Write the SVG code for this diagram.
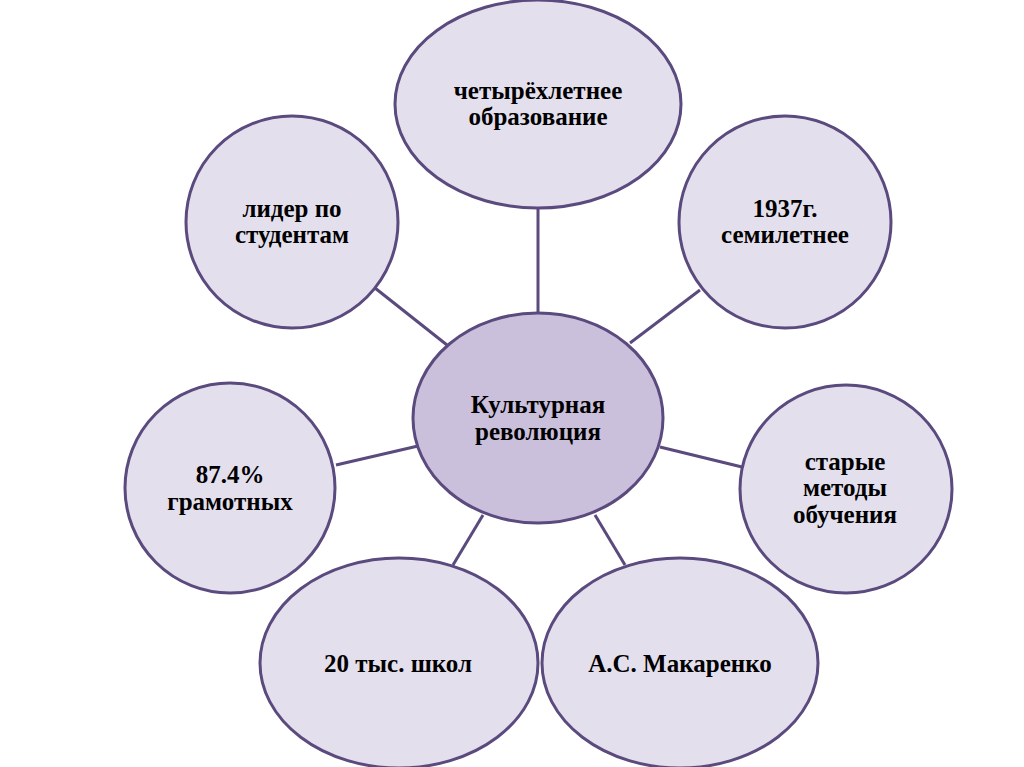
<svg xmlns="http://www.w3.org/2000/svg" width="1024" height="767" viewBox="0 0 1024 767">
<style>
.n{fill:#e4dfed;stroke:#5a4a7e;stroke-width:3}
.c{fill:#cbc0dc;stroke:#5a4a7e;stroke-width:3}
.l{stroke:#5a4a7e;stroke-width:3;fill:none}
.t{font-weight:bold;font-size:25px;fill:#000;text-anchor:middle}
</style>
<rect width="1024" height="767" fill="#fff"/>
<g id="connectors">
<line class="l" x1="538" y1="208" x2="538" y2="313"/>
<line class="l" x1="375" y1="288" x2="447" y2="345"/>
<line class="l" x1="700" y1="290" x2="630" y2="343"/>
<line class="l" x1="336" y1="465" x2="418" y2="446"/>
<line class="l" x1="660" y1="447" x2="742" y2="467"/>
<line class="l" x1="483" y1="515" x2="453" y2="565"/>
<line class="l" x1="595" y1="515" x2="625" y2="565"/>
</g>
<g font-family="Liberation Serif, Times New Roman, DejaVu Serif, serif">
<g id="center">
<ellipse class="c" cx="538" cy="418" rx="125" ry="105"/>
<text class="t" x="538" y="413">Культурная</text>
<text class="t" x="538" y="440">революция</text>
</g>
<g id="top">
<ellipse class="n" cx="538" cy="104" rx="143" ry="104"/>
<text class="t" x="538" y="99">четырёхлетнее</text>
<text class="t" x="538" y="125">образование</text>
</g>
<g id="topleft">
<ellipse class="n" cx="292" cy="222" rx="106" ry="106"/>
<text class="t" x="292" y="217">лидер по</text>
<text class="t" x="292" y="243">студентам</text>
</g>
<g id="topright">
<ellipse class="n" cx="785" cy="222" rx="106" ry="106"/>
<text class="t" x="785" y="217">1937г.</text>
<text class="t" x="785" y="243">семилетнее</text>
</g>
<g id="left">
<ellipse class="n" cx="230" cy="488" rx="105" ry="105"/>
<text class="t" x="230" y="483">87.4%</text>
<text class="t" x="230" y="510">грамотных</text>
</g>
<g id="right">
<ellipse class="n" cx="846" cy="489" rx="106" ry="104"/>
<text class="t" x="845" y="470">старые</text>
<text class="t" x="845" y="496">методы</text>
<text class="t" x="845" y="523">обучения</text>
</g>
<g id="bottomleft">
<ellipse class="n" cx="399" cy="663" rx="139" ry="105"/>
<text class="t" x="398" y="672">20 тыс. школ</text>
</g>
<g id="bottomright">
<ellipse class="n" cx="680" cy="663" rx="138" ry="105"/>
<text class="t" x="680" y="672">А.С. Макаренко</text>
</g>
</g>
</svg>
